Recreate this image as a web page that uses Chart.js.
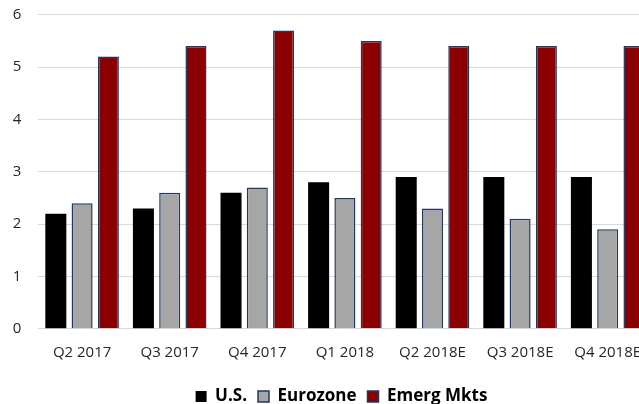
<!DOCTYPE html>
<html>
<head>
<meta charset="utf-8">
<script src="https://cdn.jsdelivr.net/npm/chart.js@4/dist/chart.umd.min.js"></script>
<style>
  html, body { margin: 0; padding: 0; background: #ffffff; overflow: hidden; }
  #frame { width: 639px; height: 404px; overflow: hidden; position: relative; }
  #wrap { width: 683px; height: 415px; position: absolute; left: 0; top: 0; }
</style>
</head>
<body>
<div id="frame"><div id="wrap"><canvas id="chart"></canvas></div></div>
<script>
// Quarterly GDP growth (%), actuals and estimates
const quarters = ['Q2 2017', 'Q3 2017', 'Q4 2017', 'Q1 2018', 'Q2 2018E', 'Q3 2018E', 'Q4 2018E'];
const usGrowth = [2.2, 2.3, 2.6, 2.8, 2.9, 2.9, 2.9];
const eurozoneGrowth = [2.4, 2.6, 2.7, 2.5, 2.3, 2.1, 1.9];
const emergingGrowth = [5.2, 5.4, 5.7, 5.5, 5.4, 5.4, 5.4];
const yTicks = [0, 1, 2, 3, 4, 5, 6];

const navy = '#1F3864';
const textColor = '#262626';
const gridColor = '#D9D9D9';

// Centre the legend on the full canvas width rather than on the padded area
const legendCentre = {
  id: 'legendCentre',
  afterLayout(chart) {
    const lg = chart.legend;
    if (!lg) return;
    const shift = (chart.width - (lg.left + lg.right)) / 2;
    lg.left += shift;
    lg.right += shift;
  }
};

new Chart(document.getElementById('chart'), {
  type: 'bar',
  data: {
    labels: quarters,
    datasets: [
      { label: 'U.S.', data: usGrowth, backgroundColor: '#000000', borderColor: '#000000', borderWidth: 0 },
      { label: 'Eurozone', data: eurozoneGrowth, backgroundColor: '#A6A6A6', borderColor: navy, borderWidth: 1.5 },
      { label: 'Emerg Mkts', data: emergingGrowth, backgroundColor: '#8B0000', borderColor: navy, borderWidth: 1.5 }
    ]
  },
  plugins: [legendCentre],
  options: {
    responsive: true,
    maintainAspectRatio: false,
    animation: false,
    categoryPercentage: 0.9,
    barPercentage: 0.8,
    layout: { padding: { top: 14.7, left: 0, right: 31.5, bottom: 0 } },
    plugins: {
      tooltip: { enabled: false },
      legend: {
        position: 'bottom',
        labels: {
          boxWidth: 11,
          boxHeight: 11,
          padding: 11,
          color: '#000000',
          font: { family: 'Open Sans', size: 17, weight: 'bold' }
        }
      }
    },
    scales: {
      x: {
        grid: { display: false, drawTicks: false },
        border: { display: false },
        ticks: {
          color: textColor,
          padding: 15,
          maxRotation: 0,
          autoSkip: false,
          font: { family: 'Open Sans', size: 15 }
        },
        afterFit: (scale) => { scale.height = 48.2; }
      },
      y: {
        min: 0,
        max: 6,
        afterBuildTicks: (scale) => { scale.ticks = yTicks.map(v => ({ value: v })); },
        grid: { color: gridColor, lineWidth: 1, drawTicks: true, tickLength: 15, tickColor: 'rgba(0,0,0,0)' },
        border: { display: false },
        ticks: {
          color: textColor,
          padding: 2,
          font: { family: 'Open Sans', size: 15 }
        },
        afterFit: (scale) => { scale.width = 38.3; }
      }
    }
  }
});
</script>
</body>
</html>
